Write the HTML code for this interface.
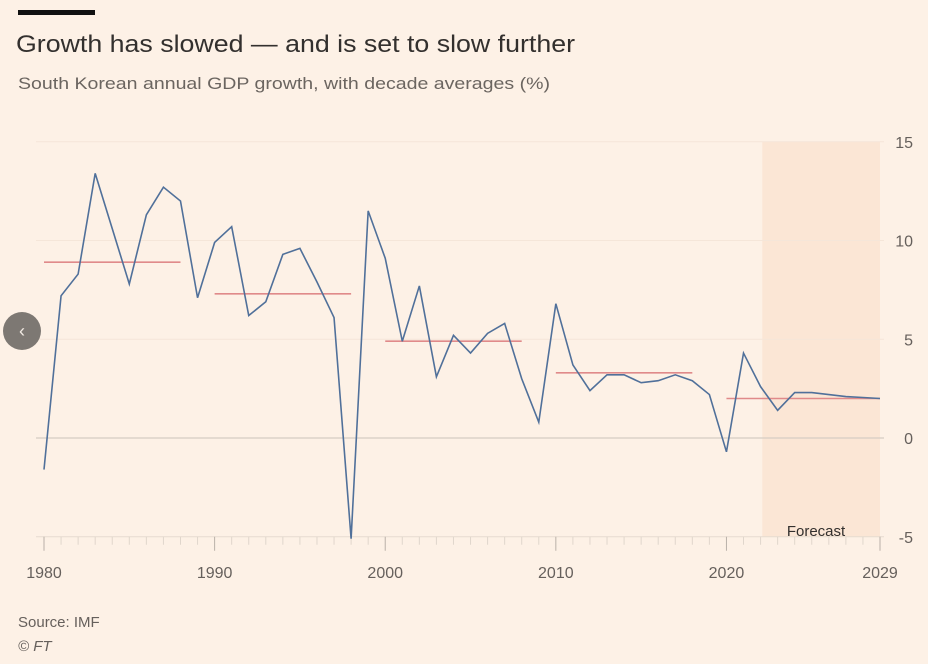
<!DOCTYPE html>
<html><head><meta charset="utf-8"><style>
html,body{margin:0;padding:0;background:#fdf1e6;}
svg{display:block;font-family:"Liberation Sans",sans-serif;}
</style></head><body>
<svg id="chart" width="928" height="664" viewBox="0 0 928 664">
<rect x="0" y="0" width="928" height="664" fill="#fdf1e6"/>
<rect x="18" y="10" width="77" height="5" fill="#111"/>
<text x="16" y="52" font-size="24" fill="#33302e" textLength="559" lengthAdjust="spacingAndGlyphs">Growth has slowed — and is set to slow further</text>
<text x="18" y="89" font-size="17" fill="#6b6560" textLength="532" lengthAdjust="spacingAndGlyphs">South Korean annual GDP growth, with decade averages (%)</text>
<g id="plot"></g>
<text x="18" y="627" font-size="15" fill="#66605c">Source: IMF</text>
<text x="18" y="651" font-size="15" font-style="italic" fill="#66605c">© FT</text>
<circle cx="22" cy="331" r="19" fill="#7d7873"/>
<text x="22" y="337" font-size="18" fill="#f2ebe4" text-anchor="middle">‹</text>
</svg>
<script>
const years = [1980,1981,1982,1983,1984,1985,1986,1987,1988,1989,1990,1991,1992,1993,1994,1995,1996,1997,1998,1999,2000,2001,2002,2003,2004,2005,2006,2007,2008,2009,2010,2011,2012,2013,2014,2015,2016,2017,2018,2019,2020,2021,2022,2023,2024,2025,2026,2027,2028,2029];
const growth = [-1.6,7.2,8.3,13.4,10.6,7.8,11.3,12.7,12.0,7.1,9.9,10.7,6.2,6.9,9.3,9.6,7.9,6.1,-5.1,11.5,9.1,4.9,7.7,3.1,5.2,4.3,5.3,5.8,3.0,0.8,6.8,3.7,2.4,3.2,3.2,2.8,2.9,3.2,2.9,2.2,-0.7,4.3,2.6,1.4,2.3,2.3,2.2,2.1,2.05,2.0];
const avgStart = [1980,1990,2000,2010,2020];
const avgEnd = [1988,1998,2008,2018,2029];
const avgValue = [8.9,7.3,4.9,3.3,2.0];
const yTicks = [15,10,5,0,-5];
const xLabels = [1980,1990,2000,2010,2020,2029];
const forecastStart = 2022.1;

const NS="http://www.w3.org/2000/svg";
const g=document.getElementById('plot');
const x=v=>44+(v-1980)*(836/49);
const y=v=>438-v*19.75;
function mk(t,a){const e=document.createElementNS(NS,t);for(const k in a)e.setAttribute(k,a[k]);g.appendChild(e);return e;}

let e=mk('rect',{x:x(forecastStart),y:y(15),width:x(2029)-x(forecastStart),height:y(-5)-y(15),fill:'#fbe6d5'});


e=mk('text',{x:816,y:536,'font-size':15,fill:'#33302e','text-anchor':'middle'});e.textContent='Forecast';



yTicks.forEach(t=>{
  const l=mk('line',{x1:36,x2:884,y1:y(t),y2:y(t),stroke:t===0?'#d6cdc4':(t===-5?'#e6dbd0':'#f5e6d9'),'stroke-width':t===0?1.2:1});
  
  
  const tx=mk('text',{x:913,y:y(t)+6,'font-size':16,fill:'#66605c','text-anchor':'end'});tx.textContent=String(t);
  
  
});
years.forEach(yr=>{
  const big=yr%10===0||yr===2029;
  const l=mk('line',{x1:x(yr),x2:x(yr),y1:y(-5),y2:y(-5)+(big?14:8),stroke:big?'#b9b0a8':'#e0d6cc','stroke-width':1});
  
  
});
xLabels.forEach(yr=>{
  const tx=mk('text',{x:x(yr),y:578,'font-size':16,fill:'#66605c','text-anchor':'middle'});tx.textContent=String(yr);
  
  
});
avgValue.forEach((v,i)=>{
  const l=mk('line',{x1:x(avgStart[i]),x2:x(avgEnd[i]),y1:y(v),y2:y(v),stroke:'#e08a8a','stroke-width':1.6});
  
  
});
const p=mk('polyline',{points:years.map((yr,i)=>x(yr)+','+y(growth[i])).join(' '),fill:'none',stroke:'#50709a','stroke-width':1.6,'stroke-linejoin':'miter'});


</script>
</body></html>
